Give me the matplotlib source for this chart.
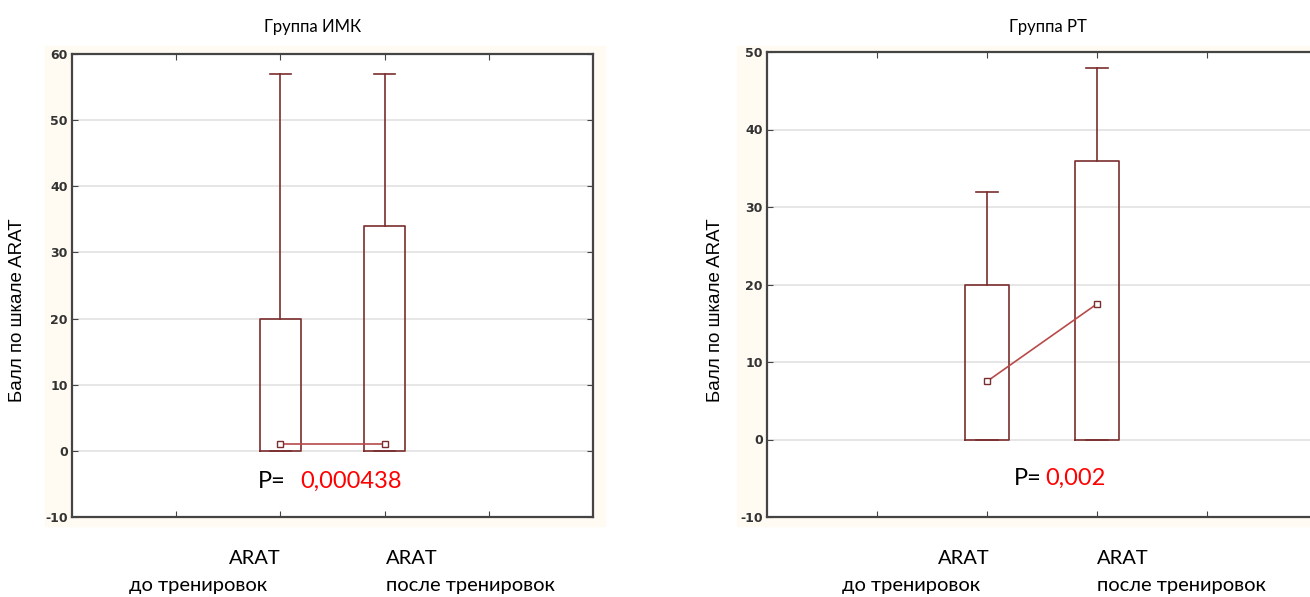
import matplotlib
matplotlib.use('Agg')
import matplotlib.pyplot as plt
from matplotlib.patches import Rectangle

# data
positions = [2, 3]
groups = ['Группа ИМК', 'Группа РТ']
imk_median = [1.0, 1.0]
imk_q1 = [0, 0]
imk_q3 = [20, 34]
imk_min = [0, 0]
imk_max = [57, 57]
rt_median = [7.5, 17.5]
rt_q1 = [0, 0]
rt_q3 = [20, 36]
rt_min = [0, 0]
rt_max = [32, 48]
imk_yticks = [-10, 0, 10, 20, 30, 40, 50, 60]
rt_yticks = [-10, 0, 10, 20, 30, 40, 50]
p_values = ['0,000438', '0,002']
ylabel = 'Балл по шкале ARAT'

box_col = '#7a2e2e'
med_col = '#b84a4a'
tick_font = ['Liberation Sans Narrow', 'DejaVu Sans']
cal_font = ['Lato', 'DejaVu Sans']

fig = plt.figure(figsize=(13.1, 5.97), dpi=100)

# faint cream panels behind each axes
for x0, w in [(45, 560), (737, 580)]:
    fig.patches.append(Rectangle((x0 / 1310, 1 - 526 / 597), w / 1310, 480 / 597,
                                 transform=fig.transFigure, color='#fffbf2', zorder=-5))

axes_rects = [[72 / 1310, 1 - 517 / 597, 521 / 1310, 463 / 597],
              [767 / 1310, 1 - 517 / 597, 550 / 1310, 465 / 597]]
stats_all = [(imk_median, imk_q1, imk_q3, imk_min, imk_max),
             (rt_median, rt_q1, rt_q3, rt_min, rt_max)]
yticks_all = [imk_yticks, rt_yticks]
p_pos = [(1.78, 2.19, -4.6), (2.24, 2.53, -5.0)]

for i in range(2):
    ax = fig.add_axes(axes_rects[i])
    ax.set_facecolor('white')
    med, q1, q3, lo, hi = stats_all[i]
    stats = []
    for k in range(2):
        stats.append(dict(med=med[k], q1=q1[k], q3=q3[k], whislo=lo[k], whishi=hi[k], fliers=[]))
    ax.bxp(stats, positions=positions, widths=0.4, capwidths=0.2,
           boxprops=dict(color=box_col, linewidth=1.2),
           whiskerprops=dict(color=box_col, linewidth=1.2),
           capprops=dict(color=box_col, linewidth=1.2),
           medianprops=dict(linewidth=0), manage_ticks=False, zorder=3)
    ax.plot(positions, med, color=med_col, linewidth=1.2, marker='s', markersize=5,
            markerfacecolor='white', markeredgecolor=box_col, zorder=4)

    yt = yticks_all[i]
    ax.set_xlim(0, 5)
    ax.set_ylim(yt[0], yt[-1])
    ax.set_yticks(yt)
    ax.set_yticklabels([str(v) for v in yt], family=tick_font, fontsize=9,
                       color='#333333', fontweight='bold')
    ax.set_xticks([1, 2, 3, 4])
    ax.set_xticklabels([])
    ax.tick_params(axis='both', direction='in', length=4, color='#444444',
                   top=True, right=True, pad=3)
    ax.grid(axis='y', color='#e2e2e2', linewidth=1.2, zorder=0)
    ax.set_axisbelow(True)
    for s in ax.spines.values():
        s.set_color('#444444')
        s.set_linewidth(1.6)

    # p-value text
    px, nx, py = p_pos[i]
    ax.text(px, py, 'P=', family=cal_font, fontsize=17, color='black', ha='left', va='center')
    ax.text(nx, py, p_values[i], family=cal_font, fontsize=17, color='#ff0000',
            ha='left', va='center')

# titles, axis labels and category labels as figure text
fig.text(313 / 1310, 1 - 27 / 597, groups[0], family=cal_font, fontsize=12, ha='center', va='center')
fig.text(1048 / 1310, 1 - 27 / 597, groups[1], family=cal_font, fontsize=12, ha='center', va='center')
fig.text(18 / 1310, 1 - 310 / 597, ylabel, rotation=90, family=['Liberation Sans', 'DejaVu Sans'],
         fontsize=13.5, ha='center', va='center')
fig.text(716 / 1310, 1 - 310 / 597, ylabel, rotation=90, family=['Liberation Sans', 'DejaVu Sans'],
         fontsize=13.5, ha='center', va='center')

lab_y1 = 1 - 558 / 597
lab_y2 = 1 - 586 / 597
fs = 14.5
fig.text(281 / 1310, lab_y1, 'ARAT', family=cal_font, fontsize=fs, ha='right', va='center')
fig.text(267 / 1310, lab_y2, 'до тренировок', family=cal_font, fontsize=fs, ha='right', va='center')
fig.text(386 / 1310, lab_y1, 'ARAT', family=cal_font, fontsize=fs, ha='left', va='center')
fig.text(386 / 1310, lab_y2, 'после тренировок', family=cal_font, fontsize=fs, ha='left', va='center')
fig.text(990 / 1310, lab_y1, 'ARAT', family=cal_font, fontsize=fs, ha='right', va='center')
fig.text(980 / 1310, lab_y2, 'до тренировок', family=cal_font, fontsize=fs, ha='right', va='center')
fig.text(1097 / 1310, lab_y1, 'ARAT', family=cal_font, fontsize=fs, ha='left', va='center')
fig.text(1097 / 1310, lab_y2, 'после тренировок', family=cal_font, fontsize=fs, ha='left', va='center')

fig.savefig('out.png', dpi=100)
